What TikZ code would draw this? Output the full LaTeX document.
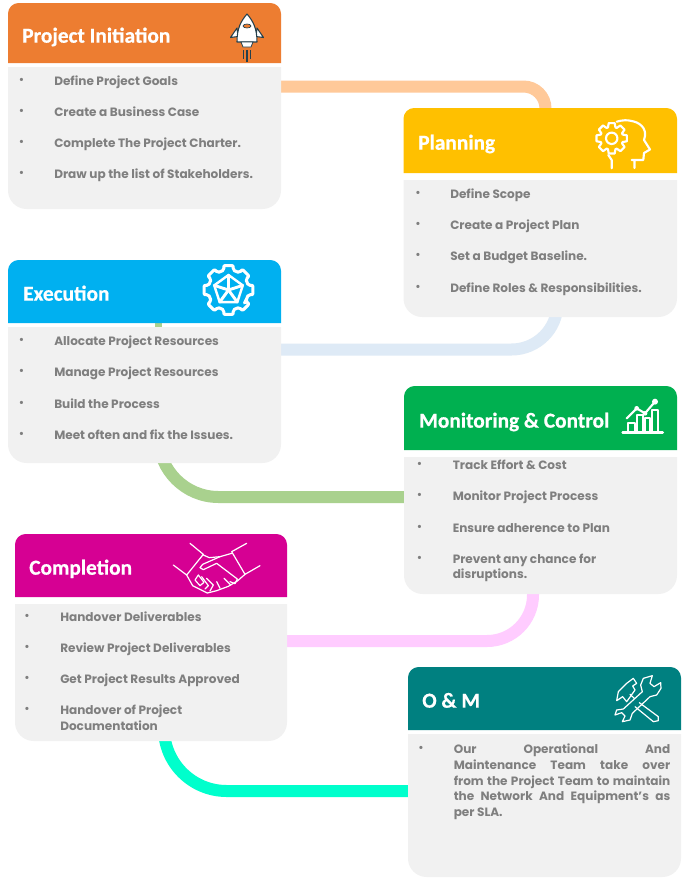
\documentclass[tikz,border=0pt]{standalone}
\usepackage{fontspec}
\setmainfont{Poppins}
\newfontfamily\titlefont{Carlito}[BoldFeatures={FakeBold=0.6}]
\definecolor{cardbg}{HTML}{F1F1F1}
\definecolor{bodytxt}{HTML}{7F7F7F}
\definecolor{hOrange}{HTML}{ED7D31}
\definecolor{hYellow}{HTML}{FFC000}
\definecolor{hBlue}{HTML}{00B0F0}
\definecolor{hGreen}{HTML}{00B050}
\definecolor{hMagenta}{HTML}{D60093}
\definecolor{hTeal}{HTML}{008080}
\definecolor{cOrange}{HTML}{FFC999}
\definecolor{cBlue}{HTML}{DEEAF6}
\definecolor{cGreen}{HTML}{A9D18E}
\definecolor{cPink}{HTML}{FFCCFF}
\definecolor{cTeal}{HTML}{00FFCC}
\definecolor{rocketdark}{HTML}{25404C}
\newcounter{ln}
\tikzset{
  slot/.style={inner sep=0pt,outer sep=0pt},
  title/.style={anchor=west,inner sep=0pt,text=white,text height=10pt,text depth=0pt,yshift=-0.75pt,font=\titlefont\bfseries\fontsize{16}{18}\selectfont},
  itemtxt/.style={anchor=west,inner sep=0pt,text=bodytxt,text height=6.4pt,text depth=0pt,yshift=-0.4pt,font=\bfseries\fontsize{9.05}{11.7}\selectfont},
  dotmark/.style={anchor=center,inner sep=0pt,text=bodytxt,font=\bfseries\fontsize{8}{9}\selectfont},
  conn/.style={draw=#1,line width=9pt,line cap=butt},
  icon/.style={draw=white,line width=1.4pt,line join=round,line cap=round,fill=none},
  iconthin/.style={draw=white,line width=0.9pt,line join=round,line cap=round,fill=none}
}
% name, x1, x2, head top, head bottom, body top, body bottom
\newcommand{\cardslots}[7]{%
  \node[slot,minimum width={(#3-#2)*0.75pt},minimum height={(#5-#4)*0.75pt}] (#1-head) at ({(#2+#3)/2},{(#4+#5)/2}) {};
  \node[slot,minimum width={(#3-#2)*0.75pt},minimum height={(#7-#6)*0.75pt}] (#1-body) at ({(#2+#3)/2},{(#6+#7)/2}) {};
}
% name, colour, title x, title y, title
\newcommand{\cardfill}[5]{%
  \fill[#2] (#1-head.south west) [rounded corners=8pt] -- (#1-head.north west) -- (#1-head.north east) [sharp corners] -- (#1-head.south east) -- cycle;
  \fill[cardbg] (#1-body.north west) [rounded corners=14pt] -- (#1-body.south west) -- (#1-body.south east) [sharp corners] -- (#1-body.north east) -- cycle;
  \node[title] (#1-title) at (#3,#4) {#5};
}
\newcommand{\bl}[4]{%
  \stepcounter{ln}%
  \node[dotmark] (dot\theln) at (#1,#3) {•};
  \node[itemtxt] (item\theln) at (#2,#3) {#4};
}
\newcommand{\cont}[3]{%
  \stepcounter{ln}%
  \node[itemtxt] (item\theln) at (#1,#2) {#3};
}
\begin{document}
\begin{tikzpicture}[x=0.75pt,y=-0.75pt]
\useasboundingbox (0,0) rectangle (689,886);
\fill[white] (0,0) rectangle (689,886);

\cardslots{init}{8}{281}{3}{63}{67}{209}
\cardslots{plan}{403.5}{677}{108}{173}{180}{317}
\cardslots{exec}{8}{281}{260}{323}{327}{463}
\cardslots{mon}{404}{677}{386}{450}{457}{594}
\cardslots{comp}{15}{287}{534}{597}{604}{741}
\cardslots{om}{408}{681}{667}{730}{734}{877}

\draw[conn=cOrange,rounded corners=16.5pt] (init-body.east |- 0,86.5) -| (545.5,0 |- plan-head.center);
\draw[conn=cBlue,rounded corners=34.5pt] (exec-body.east |- 0,349.5) -| (557.5,0 |- plan-body.center);
\draw[conn=cGreen,rounded corners=45pt] (158.5,0 |- exec-body.center) |- (mon-body.west |- 0,497);
\fill[cGreen] (155,322) rectangle (162,328);
\draw[conn=cPink,rounded corners=34.5pt] (comp-body.east |- 0,641) -| (533,0 |- mon-body.center);
\draw[conn=cTeal,rounded corners=47pt] (164,0 |- comp-body.center) |- (om-body.west |- 0,791);

\cardfill{init}{hOrange}{22}{35}{Project Initiation}
\cardfill{plan}{hYellow}{418}{142}{Planning}
\cardfill{exec}{hBlue}{23}{293}{Execution}
\cardfill{mon}{hGreen}{419}{420}{Monitoring \& Control}
\cardfill{comp}{hMagenta}{29}{567}{Completion}
\cardfill{om}{hTeal}{422}{700}{O \& M}

\bl{21.5}{54}{81}{Define Project Goals}
\bl{21.5}{54}{112}{Create a Business Case}
\bl{21.5}{54}{143}{Complete The Project Charter.}
\bl{21.5}{54}{174}{Draw up the list of Stakeholders.}

\bl{418}{450}{194}{Define Scope}
\bl{418}{450}{225}{Create a Project Plan}
\bl{418}{450}{256}{Set a Budget Baseline.}
\bl{418}{450}{288}{Define Roles \& Responsibilities.}

\bl{21.5}{54}{341}{Allocate Project Resources}
\bl{21.5}{54}{372}{Manage Project Resources}
\bl{21.5}{54}{404}{Build the Process}
\bl{21.5}{54}{435}{Meet often and fix the Issues.}

\bl{419.5}{452.5}{465}{Track Effort \& Cost}
\bl{419.5}{452.5}{496}{Monitor Project Process}
\bl{419.5}{452.5}{528}{Ensure adherence to Plan}
\bl{419.5}{452.5}{559}{Prevent any chance for}
\cont{452.5}{574}{disruptions.}

\bl{27}{60}{617}{Handover Deliverables}
\bl{27}{60}{648}{Review Project Deliverables}
\bl{27}{60}{679}{Get Project Results Approved}
\bl{27}{60}{710}{Handover of Project}
\cont{60}{726}{Documentation}

\bl{421}{453.5}{749}{\makebox[162.4pt][s]{Our Operational And}}
\cont{453.5}{765}{\makebox[162.4pt][s]{Maintenance Team take over}}
\cont{453.5}{781}{\makebox[162.4pt][s]{from the Project Team to maintain}}
\cont{453.5}{796}{\makebox[162.4pt][s]{the Network And Equipment's as}}
\cont{453.5}{812}{per SLA.}

% rocket
\fill[white,draw=rocketdark,line width=0.8pt,line join=round] (237,28) -- (230.5,37.5) -- (238,36.5) -- cycle;
\fill[white,draw=rocketdark,line width=0.8pt,line join=round] (257,28) -- (263.5,37.5) -- (256,36.5) -- cycle;
\fill[white,draw=rocketdark,line width=0.8pt,line join=round] (247,14) .. controls (241,21) and (237,28) .. (237,42) -- (257,42) .. controls (257,28) and (253,21) .. (247,14) -- cycle;
\fill[white,draw=rocketdark,line width=0.6pt] (241,42) -- (253,42) -- (251,47) -- (243,47) -- cycle;
\fill[hOrange,draw=rocketdark,line width=0.5pt] (247,26) ellipse (4 and 2);
\draw[rocketdark,line width=0.9pt] (243.5,50) -- (243.5,59) (247,50) -- (247,62) (250.5,50) -- (250.5,59);

% head with gear
\begin{scope}[shift={(611.7,138.3)}]
\draw[icon,line width=1.6pt] (-19:11.5) \foreach \a in {0,45,...,315}{ -- (\a-11:15.5) -- (\a+11:15.5) -- (\a+19:11.5) -- (\a+45-19:11.5)} -- cycle;
\draw[icon,line width=1.6pt] (0,0) circle (5.7);
\end{scope}
\draw[icon,line width=1.6pt] (616.7,121.7) .. controls (622,120) and (628,120) .. (630,120.7) .. controls (640,122) and (646,128) .. (645,136) -- (644,140) -- (650,149.5) -- (644,153) -- (643.3,160) -- (631.7,160) (634.5,160) -- (634.5,168);
\draw[icon,line width=1.6pt] (608.3,155) -- (611.7,160) -- (611.7,168.3);

% execution gear
\begin{scope}[shift={(228.5,290)}]
\draw[icon,line width=2.3pt,rounded corners=1.5pt] (34:20.5) \foreach \a in {0,45,...,315}{ -- (\a+45-12:25) -- (\a+45+12:25) -- (\a+45+22.5-11:20.5) -- (\a+45+22.5+11:20.5)} -- cycle;
\draw[icon,line width=1.8pt] (-90:15) -- (-18:15) -- (54:15) -- (126:15) -- (198:15) -- cycle;
\foreach \a in {-90,-18,54,126,198}{
  \draw[icon,line width=2.2pt] (0,0) -- (\a:15);
}
\end{scope}

% chart
\begin{scope}[shift={(400,380)},x=0.25pt,y=-0.25pt]
\draw[icon,line width=2pt] (668,158) -- (788,158);
\draw[icon,line width=1.5pt] (685,155) -- (685,130) -- (705,130) -- (705,155);
\draw[icon,line width=1.5pt] (710,155) -- (710,105) -- (728,105) -- (728,155);
\draw[icon,line width=1.5pt] (735,155) -- (735,115) -- (750,115) -- (750,155);
\draw[icon,line width=1.5pt] (757,155) -- (757,90) -- (775,90) -- (775,155);
\draw[icon,line width=1.6pt] (680,115) -- (710,85) -- (735,100) -- (765,65);
\fill[white] (710,85) circle (7) (735,100) circle (7) (765,65) circle (9);
\end{scope}

% handshake
\begin{scope}[shift={(0,525)},x=0.25pt,y=-0.25pt]
\draw[iconthin] (570,55) -- (610,88) -- (560,150) -- (520,120);
\draw[iconthin] (740,55) -- (695,80) -- (735,148) -- (780,122);
\draw[iconthin] (610,90) -- (628,98) -- (660,95) -- (695,85);
\draw[iconthin] (660,95) -- (608,118) -- (600,128) -- (610,134) -- (650,115) -- (712,162) -- (705,176) -- (690,170);
\draw[iconthin] (560,150) -- (578,182) -- (622,204) -- (650,197) -- (685,184) -- (712,168) -- (735,148);
\draw[iconthin] (585,165) -- (595,150) -- (612,172) -- (600,182) -- cycle;
\draw[iconthin] (605,155) -- (625,182) -- (615,192);
\draw[iconthin] (620,160) -- (640,180) -- (630,198);
\draw[iconthin] (650,170) -- (660,190) (672,160) -- (692,180);
\end{scope}

% tools
\begin{scope}[shift={(400,660)},x=0.25pt,y=-0.25pt]
\draw[iconthin] (757,47) -- (730,55) -- (722,75) -- (727,95) -- (670,147) -- (650,150) -- (645,165) -- (665,158) -- (675,168) -- (667,185) -- (690,180) -- (697,160) -- (750,110) -- (770,105) -- (783,85) -- (782,68) -- (762,80) -- (750,70) -- cycle;
\draw[iconthin] (650,122) -- (655,95) -- (680,70) -- (700,55) -- (710,70) -- (698,78) -- (705,90) -- (680,125) -- (668,110) -- cycle;
\draw[iconthin] (690,103) -- (703,115);
\draw[iconthin] (718,128) -- (775,170) -- (775,182) -- (760,185) -- (705,140);
\end{scope}
\end{tikzpicture}
\end{document}
